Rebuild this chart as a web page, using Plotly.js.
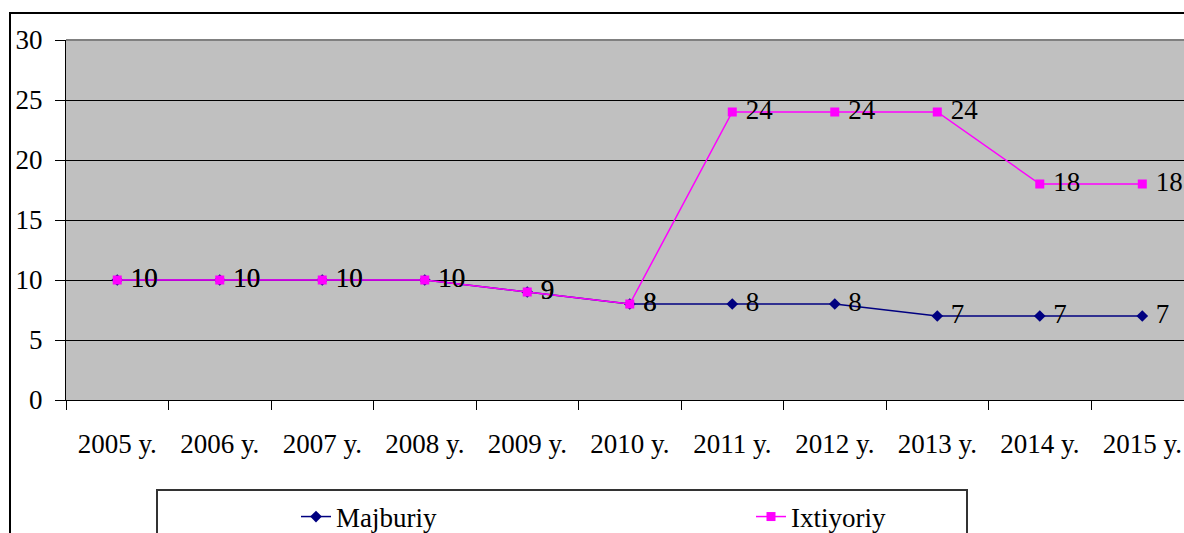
<!DOCTYPE html>
<html><head><meta charset="utf-8">
<script src="https://cdn.plot.ly/plotly-3.0.1.min.js"></script>
<style>body{margin:0;padding:0;background:#fff}#chart{width:1184px;height:533px}</style>
</head><body><div id="chart"></div>
<script>
const years = ["2005 y.","2006 y.","2007 y.","2008 y.","2009 y.","2010 y.","2011 y.","2012 y.","2013 y.","2014 y.","2015 y."];
const majburiy = [10,10,10,10,9,8,8,8,7,7,7];
const ixtiyoriy = [10,10,10,10,9,8,24,24,24,18,18];
const seriesNames = ["Majburiy","Ixtiyoriy"];

const font = "Times New Roman, Liberation Serif, serif";
const fs = 27;
const traces = [
  {x: years, y: majburiy, name: seriesNames[0], type: "scatter", mode: "lines+markers+text",
   line: {color: "#000080", width: 1.5}, marker: {symbol: "diamond", size: 9, color: "#000080"},
   text: majburiy.map(String), texttemplate: " %{text}", textposition: "middle right",
   textfont: {family: font, size: fs, color: "#000"}, cliponaxis: false, legendrank: 1},
  {x: years, y: ixtiyoriy, name: seriesNames[1], type: "scatter", mode: "lines+markers+text",
   line: {color: "#FF00FF", width: 1.5}, marker: {symbol: "square", size: 9, color: "#FF00FF"},
   text: ixtiyoriy.map(String), texttemplate: " %{text}", textposition: "middle right",
   textfont: {family: font, size: fs, color: "#000"}, cliponaxis: false, legendrank: 2}
];
const layout = {
  width: 1184, height: 533,
  margin: {l: 66, r: 0, t: 40, b: 133, autoexpand: false},
  paper_bgcolor: "#fff", plot_bgcolor: "#C0C0C0",
  font: {family: font, size: fs, color: "#000"},
  showlegend: true,
  legend: {orientation: "h", x: (296-66)/1118, y: (400-517)/360, xanchor: "left", yanchor: "middle",
           entrywidth: 410, entrywidthmode: "pixels", font: {family: font, size: fs},
           bgcolor: "rgba(0,0,0,0)", borderwidth: 0, traceorder: "normal"},
  xaxis: {type: "category", range: [-0.5, 10.407], tickson: "boundaries", ticks: "outside", ticklen: 9,
          tickcolor: "#000", showline: true, linecolor: "#000", linewidth: 1, showgrid: false,
          tickfont: {family: font, size: fs}, ticklabelstandoff: 20, zeroline: false, automargin: false, fixedrange: true},
  yaxis: {range: [0, 30], dtick: 5, tick0: 0, ticks: "outside", ticklen: 10, tickcolor: "#000",
          showline: true, linecolor: "#000", linewidth: 1, showgrid: true, gridcolor: "#000", gridwidth: 1,
          zeroline: false, tickfont: {family: font, size: fs}, ticklabelstandoff: 7, automargin: false, fixedrange: true},
  shapes: [
    {type: "rect", xref: "paper", yref: "paper", x0: (10-66)/1118, x1: 1.2, y0: -0.6, y1: 1 + (40-13)/360,
     line: {color: "#000", width: 2}, fillcolor: "rgba(0,0,0,0)", layer: "below"},
    {type: "rect", xref: "paper", yref: "paper", x0: (157-66)/1118, x1: (967-66)/1118, y0: (400-490)/360, y1: -0.6,
     line: {color: "#333", width: 2}, fillcolor: "rgba(0,0,0,0)"},
    {type: "line", xref: "paper", yref: "paper", x0: 0, x1: 1, y0: 1, y1: 1, line: {color: "#808080", width: 2}}
  ]
};
Plotly.newPlot("chart", traces, layout, {displayModeBar: false, staticPlot: true});
</script></body></html>
